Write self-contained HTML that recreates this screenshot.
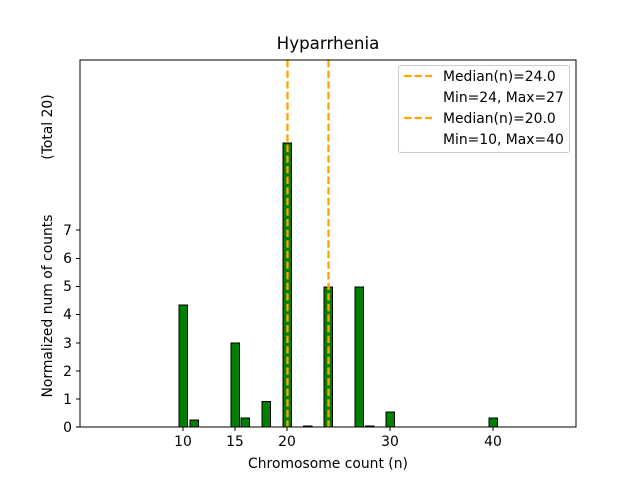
<!DOCTYPE html>
<html><head><meta charset="utf-8"><style>body{margin:0;background:#fff}</style></head><body>
<svg width="640" height="480" xmlns="http://www.w3.org/2000/svg" font-family="DejaVu Sans, Liberation Sans, sans-serif">
<rect width="640" height="480" fill="#fff"/>
<g fill="#008000" stroke="#000" stroke-width="1">
<rect x="179" y="305" width="8.5" height="122"/>
<rect x="190" y="420" width="8.5" height="7"/>
<rect x="231" y="343" width="8.5" height="84"/>
<rect x="241" y="418" width="8.5" height="9"/>
<rect x="262" y="401.5" width="8.5" height="25.5"/>
<rect x="283" y="143" width="8.5" height="284"/>
<rect x="303.5" y="426" width="8.5" height="1"/>
<rect x="324" y="287" width="8.5" height="140"/>
<rect x="355" y="287" width="8.5" height="140"/>
<rect x="365.5" y="426" width="8.5" height="1"/>
<rect x="386" y="412" width="8.5" height="15"/>
<rect x="489" y="418" width="8.5" height="9"/>
</g>
<g stroke="#ffa500" stroke-width="2.3" stroke-dasharray="7.4,3.2">
<line x1="287.5" y1="60" x2="287.5" y2="427"/>
<line x1="328.5" y1="60" x2="328.5" y2="427"/>
</g>
<rect x="80" y="60" width="496" height="367" fill="none" stroke="#000" stroke-width="1"/>
<g stroke="#000">
<line x1="183" y1="427" x2="183" y2="431"/><line x1="235" y1="427" x2="235" y2="431"/>
<line x1="287" y1="427" x2="287" y2="431"/><line x1="390" y1="427" x2="390" y2="431"/>
<line x1="493" y1="427" x2="493" y2="431"/>
<line x1="76" y1="427" x2="80" y2="427"/><line x1="76" y1="399" x2="80" y2="399"/>
<line x1="76" y1="371" x2="80" y2="371"/><line x1="76" y1="343" x2="80" y2="343"/>
<line x1="76" y1="314.5" x2="80" y2="314.5"/><line x1="76" y1="286.5" x2="80" y2="286.5"/>
<line x1="76" y1="258.5" x2="80" y2="258.5"/><line x1="76" y1="230" x2="80" y2="230"/>
</g>
<g font-size="13.9" fill="#000" text-anchor="middle">
<text x="183" y="446">10</text><text x="235" y="446">15</text><text x="287" y="446">20</text>
<text x="390" y="446">30</text><text x="493" y="446">40</text>
<text x="328" y="468">Chromosome count (n)</text>
</g>
<g font-size="13.9" fill="#000" text-anchor="end">
<text x="72" y="432">0</text><text x="72" y="404">1</text><text x="72" y="376">2</text>
<text x="72" y="348">3</text><text x="72" y="319">4</text><text x="72" y="291">5</text>
<text x="72" y="263">6</text><text x="72" y="235">7</text>
</g>
<g font-size="13.9" fill="#000" text-anchor="middle">
<text x="52" y="306" transform="rotate(-90 52 306)">Normalized num of counts</text>
<text x="52" y="127" transform="rotate(-90 52 127)">(Total 20)</text>
</g>
<text x="328" y="49" font-size="16.7" text-anchor="middle">Hyparrhenia</text>
<rect x="398.5" y="65.5" width="171" height="87" rx="2" fill="#fff" fill-opacity="0.8" stroke="#ccc"/>
<g stroke="#ffa500" stroke-width="2.3" stroke-dasharray="7.4,3.2">
<line x1="404" y1="76" x2="432" y2="76"/><line x1="404" y1="118" x2="432" y2="118"/>
</g>
<g font-size="13.9" fill="#000">
<text x="443" y="81">Median(n)=24.0</text><text x="443" y="102">Min=24, Max=27</text>
<text x="443" y="123">Median(n)=20.0</text><text x="443" y="144">Min=10, Max=40</text>
</g>
</svg>
</body></html>
